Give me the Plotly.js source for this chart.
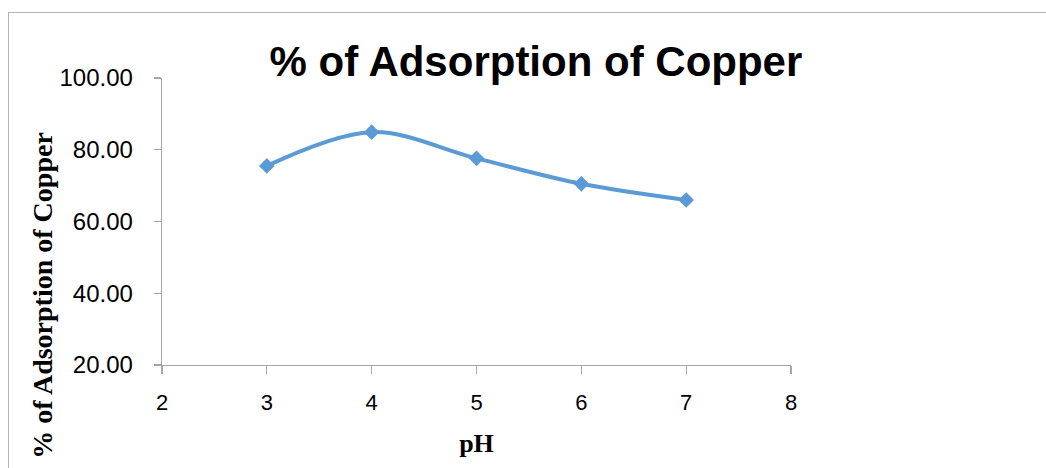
<!DOCTYPE html>
<html>
<head>
<meta charset="utf-8">
<script src="https://cdn.plot.ly/plotly-3.0.1.min.js"></script>
<style>
  html, body { margin: 0; padding: 0; background: #fff; overflow: hidden; }
  #wrap { position: relative; width: 1046px; height: 468px; }
  #frame { position: absolute; left: 8px; top: 12px; width: 1100px; height: 520px;
           border: 1.5px solid #b3b3b3; box-sizing: border-box; pointer-events: none; }
  #chart { position: absolute; left: 0; top: 0; width: 1046px; height: 468px; }
</style>
</head>
<body>
<div id="wrap">
  <div id="chart"></div>
  <div id="frame"></div>
</div>
<script>
// Data
const pH = [3, 4, 5, 6, 7];
const adsorptionPct = [75.5, 84.9, 77.6, 70.5, 66.0];
const chartTitle = "% of Adsorption of Copper";
const xTitle = "pH";
const yTitle = "% of Adsorption of Copper";

const blue = "#5b9bd5";
const axisGrey = "#a6a6a6";

const trace = {
  x: pH,
  y: adsorptionPct,
  type: "scatter",
  mode: "lines+markers",
  line: { color: blue, width: 4, shape: "spline", smoothing: 1 },
  marker: { symbol: "diamond", size: 12, color: blue },
  hoverinfo: "skip"
};

const layout = {
  width: 1046,
  height: 468,
  margin: { l: 162, r: 255, t: 78, b: 103 },
  paper_bgcolor: "rgba(0,0,0,0)",
  plot_bgcolor: "rgba(0,0,0,0)",
  showlegend: false,
  title: {
    text: "<b>" + chartTitle + "</b>",
    font: { family: "Liberation Sans, Arial, sans-serif", size: 42, color: "#000" },
    x: 0.5124, xanchor: "center", xref: "container",
    y: 0.87, yanchor: "middle", yref: "container"
  },
  xaxis: {
    range: [2, 8],
    dtick: 1,
    tick0: 2,
    showgrid: false,
    zeroline: false,
    showline: true,
    linecolor: axisGrey,
    linewidth: 1.3,
    ticks: "outside",
    ticklen: 8,
    tickwidth: 1.3,
    tickcolor: axisGrey,
    ticklabelstandoff: 9,
    tickfont: { family: "Liberation Sans, Arial, sans-serif", size: 22, color: "#000" },
    title: {
      text: "<b>" + xTitle + "</b>",
      font: { family: "Liberation Serif, Times New Roman, serif", size: 26, color: "#000" },
      standoff: 20
    },
    fixedrange: true
  },
  yaxis: {
    range: [20, 100],
    dtick: 20,
    tick0: 20,
    tickformat: ".2f",
    showgrid: false,
    zeroline: false,
    showline: true,
    linecolor: axisGrey,
    linewidth: 1.3,
    ticks: "outside",
    ticklen: 7,
    tickwidth: 1.3,
    tickcolor: axisGrey,
    ticklabelstandoff: 16,
    tickfont: { family: "Liberation Sans, Arial, sans-serif", size: 24, color: "#000" },
    title: {
      text: "<b>" + yTitle + "</b>",
      font: { family: "Liberation Serif, Times New Roman, serif", size: 28, color: "#000" },
      standoff: 8
    },
    fixedrange: true
  }
};

Plotly.newPlot("chart", [trace], layout, { displayModeBar: false, staticPlot: true }).then(function () {
  // The reference's y-axis title sits lower than the plot centre; nudge it into place.
  const g = document.querySelector(".g-ytitle");
  if (g) g.setAttribute("transform", "translate(10,74)");
});
</script>
</body>
</html>
